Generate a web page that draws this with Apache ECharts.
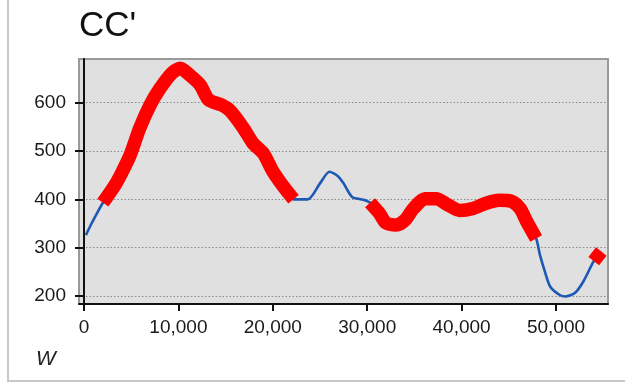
<!DOCTYPE html>
<html>
<head>
<meta charset="utf-8">
<script src="https://cdn.jsdelivr.net/npm/echarts@6/dist/echarts.min.js"></script>
<style>
html,body{margin:0;padding:0;background:#fff;}
#wrap{position:relative;width:625px;height:391px;overflow:hidden;}
#frame{position:absolute;left:7px;top:0;width:620px;height:382px;border-left:2px solid #c8c8c8;border-bottom:2px solid #c8c8c8;box-sizing:border-box;}
#chart{position:absolute;left:0;top:0;width:625px;height:391px;}
</style>
</head>
<body>
<div id="wrap"><div id="frame"></div><div id="chart"></div></div>
<script>
// W positions
const wValues = [200, 800, 1400, 2000, 3300, 4000, 4900, 5900, 7000, 8000, 9300, 10200, 11200, 12300, 13200, 14600, 15500, 16900, 17900, 19000, 20000, 21100, 22200, 23700, 25000, 26000, 26900, 27500, 28400, 29600, 30300, 31300, 32000, 33100, 34000, 34900, 36100, 37300, 38600, 39800, 41200, 42600, 44000, 45300, 46200, 46900, 47900, 48300, 48800, 49400, 50400, 51000, 52000, 52900, 54000, 54800];
// CC' values
const ccValues = [326, 350, 372, 393, 430, 455, 492, 547, 595, 628, 661, 671, 657, 637, 606, 595, 583, 547, 516, 495, 458, 427, 400, 400, 433, 457, 448, 433, 405, 399, 393, 371, 351, 347, 357, 381, 401, 401, 388, 377, 381, 392, 398, 396, 381, 354, 319, 285, 252, 219, 202, 199, 206, 230, 272, 292];
// highlighted W ranges (red)
const redRanges = [[2000, 22200], [30300, 47900], [54000, 54800]];
// tick values
const xTicks = [0, 10000, 20000, 30000, 40000, 50000];
const yTicks = [200, 300, 400, 500, 600];

const blueData = wValues.map((w, i) => [w, ccValues[i]]);
const redData = [];
redRanges.forEach((r, k) => {
  wValues.forEach((w, i) => { if (w >= r[0] && w <= r[1]) redData.push([w, ccValues[i]]); });
  if (k < redRanges.length - 1) redData.push('-');
});

const chart = echarts.init(document.getElementById('chart'));
const font = 'Liberation Sans, Arial, sans-serif';
chart.setOption({
  animation: false,
  title: {
    text: "CC'", left: 74, top: 4,
    textStyle: { fontFamily: font, fontSize: 35, fontWeight: 'normal', color: '#111' }
  },
  grid: {
    left: 79, right: 17, top: 59, bottom: 87,
    show: true, backgroundColor: '#e0e0e0', borderColor: '#9a9a9a', borderWidth: 2
  },
  xAxis: {
    type: 'value', min: -530, max: 55510,
    axisLine: { show: true, onZero: false, lineStyle: { color: '#111', width: 2 } },
    axisTick: { show: true, length: 7, customValues: xTicks, lineStyle: { color: '#111', width: 2 } },
    axisLabel: {
      customValues: xTicks, margin: 14, fontFamily: font, fontSize: 19, color: '#1a1a1a',
      formatter: v => v.toLocaleString('en-US')
    },
    splitLine: { show: false }
  },
  yAxis: {
    type: 'value', min: 183.4, max: 690.4,
    axisLine: { show: true, lineStyle: { color: '#111', width: 2 } },
    axisTick: { show: true, length: 9, customValues: yTicks, lineStyle: { color: '#111', width: 2 } },
    axisLabel: { customValues: yTicks, margin: 13, fontFamily: font, fontSize: 19, color: '#1a1a1a' },
    splitLine: { show: true, lineStyle: { color: '#8a8a8a', type: [1.5, 2], width: 1.2 } }
  },
  graphic: [{
    type: 'text', left: 36, top: 349,
    style: { text: 'W', font: 'italic 21px ' + font, fill: '#222' }
  }],
  series: [
    { type: 'line', data: blueData, showSymbol: false, symbol: 'none', smooth: 0.25,
      lineStyle: { color: '#1c58b4', width: 2.6 }, z: 2 },
    { type: 'line', data: redData, showSymbol: false, symbol: 'none', connectNulls: false, smooth: 0.25,
      lineStyle: { color: '#ff0000', width: 13.5, cap: 'butt', join: 'round' }, z: 3 }
  ]
});
</script>
</body>
</html>
